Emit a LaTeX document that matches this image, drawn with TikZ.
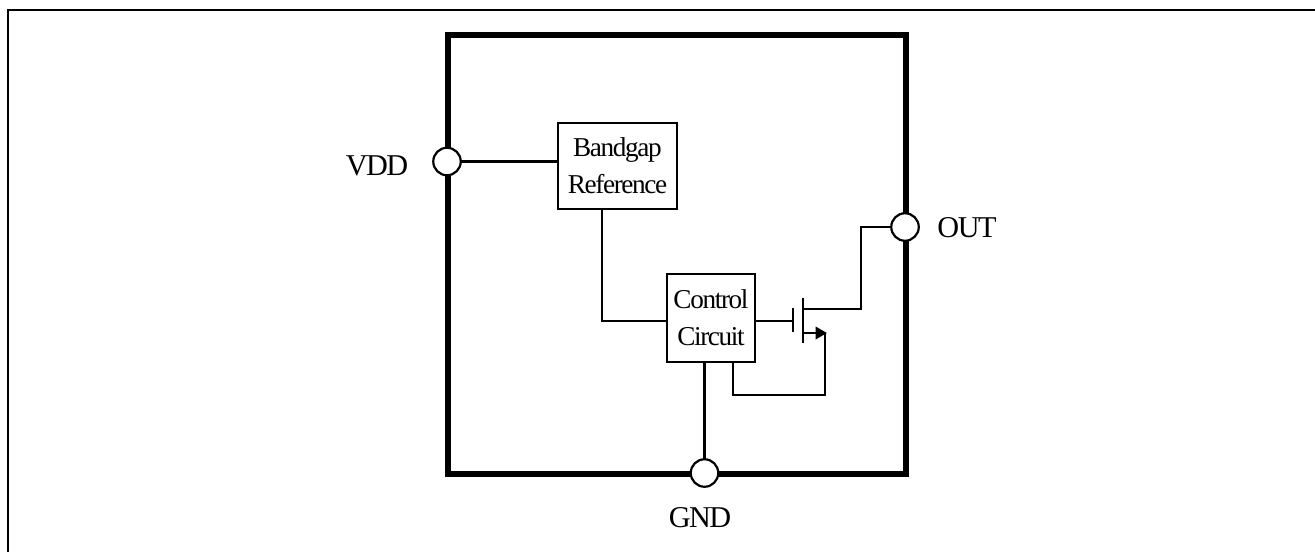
\documentclass[tikz,border=0pt]{standalone}
\usepackage{fontspec}
\setmainfont{Liberation Serif}[LetterSpace=-5]
\usepackage{xcolor}
\usetikzlibrary{arrows.meta,positioning,calc}

\tikzset{
  wire/.style={black, line width=1.25pt},
  chipedge/.style={black, line width=3.4pt},
  blockbox/.style={draw=black, line width=1.25pt, fill=white, align=center, inner sep=0pt, outer sep=0pt,
    font=\fontsize{15.5}{21}\selectfont},
  pinring/.style={circle, draw=black, line width=1.25pt, fill=white, minimum size=0.55cm, inner sep=0pt, outer sep=0pt},
  pinlabel/.style={inner sep=0pt, font=\fontsize{17.2}{20}\selectfont},
}

\begin{document}
\begin{tikzpicture}[x=0.02cm,y=-0.02cm]
  \useasboundingbox (0,0) rectangle (1315,552);
  % page frame, open at right and bottom
  \draw[wire] (1315,10) -- (8,10) -- (8,552);

  % chip outline
  \draw[chipedge] (448,35) rectangle (906,474);

  % pins
  \node[pinring] (vddpin) at (447,161.5) {};
  \node[pinring] (outpin) at (905,227) {};
  \node[pinring] (gndpin) at (704.5,473) {};
  \node[pinlabel] (vddtext) at (377,166) {VDD};
  \node[pinlabel] (outtext) at (967,228) {OUT};
  \node[pinlabel] (gndtext) at (700,518) {GND};

  % blocks
  \node[blockbox, minimum width=2.38cm, minimum height=1.72cm] (bandgap) at (617.5,166) {Bandgap\\Reference};
  \node[blockbox, minimum width=1.76cm, minimum height=1.76cm] (control) at (711,318) {Control\\Circuit};

  % transistor
  \coordinate (gatemid) at (793,321);
  \coordinate (gatetop) at (793,308);
  \coordinate (gatebot) at (793,332);
  \coordinate (chantop) at (803,298);
  \coordinate (chanbot) at (803,343);
  \coordinate (drain) at (803,309);
  \coordinate (source) at (803,333);
  \coordinate (srcturn) at (827,333);
  \draw[wire] (gatetop) -- (gatebot);
  \draw[wire] (chantop) -- (chanbot);

  % connections
  \draw[wire] (vddpin.east) -- (vddpin.east -| bandgap.west);
  \draw[wire] ($(bandgap.south west)!0.37!(bandgap.south east)$) |- (gatemid -| control.west);
  \draw[wire] (control.east |- gatemid) -- (gatemid);
  \draw[wire] (drain) -| (861,227) -- (outpin.west);
  \draw[wire, -{Triangle[length=0.23cm,width=0.25cm]}] (source) -- (srcturn);
  \draw[wire] ($(control.south west)!0.75!(control.south east)$) |- (825,395) -- (825,333);
  \draw[wire] (gndpin.north) -- (gndpin.north |- control.south);
\end{tikzpicture}
\end{document}
